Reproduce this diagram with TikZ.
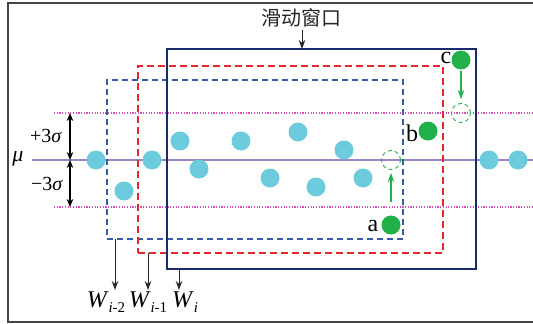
\documentclass[tikz,border=0pt]{standalone}
\usepackage{fontspec}
\setmainfont{Liberation Serif}
\newfontfamily\cjk{Noto Sans CJK SC}
\usetikzlibrary{arrows.meta}
\definecolor{navy}{HTML}{1B2A6B}
\definecolor{wred}{HTML}{E8262E}
\definecolor{wblue}{HTML}{3A5AA8}
\definecolor{dotmag}{HTML}{D050B8}
\definecolor{mupurple}{HTML}{9A86C0}
\definecolor{dotcyan}{HTML}{6CCBDC}
\definecolor{dotgreen}{HTML}{22B04B}
\definecolor{framegray}{HTML}{444444}
\begin{document}
\begin{tikzpicture}[x=1pt,y=-1pt,
  dot/.style={circle,fill=dotcyan,minimum size=19pt,inner sep=0pt},
  gdot/.style={circle,fill=dotgreen,minimum size=19pt,inner sep=0pt},
  gghost/.style={circle,draw=dotgreen,dash pattern=on 4pt off 3pt,line width=0.9pt,minimum size=19pt,inner sep=0pt},
  winbox/.style={inner sep=0pt,outer sep=0pt},
  garrow/.style={draw=dotgreen,line width=1.1pt,-{Stealth[length=9pt,width=6.5pt]}},
  warrow/.style={draw=black!85,line width=1pt,-{Stealth[length=9pt,width=6.5pt]}},
  sarrow/.style={draw=black,line width=1.2pt,{Stealth[length=8pt,width=6.5pt]}-{Stealth[length=8pt,width=6.5pt]}},
  lbl/.style={font=\fontsize{24}{26}\selectfont,inner sep=0pt},
  slbl/.style={font=\fontsize{20}{22}\selectfont,inner sep=0pt}
]
\clip (0,0) rectangle (533,324);
\useasboundingbox (0,0) rectangle (533,324);
% outer frame
\draw[framegray,line width=1.8pt] (8,3) rectangle (560,322);
% reference lines
\draw[dotmag,line width=1.1pt,dash pattern=on 1.2pt off 1.5pt] (54,113) -- (540,113);
\draw[dotmag,line width=1.1pt,dash pattern=on 1.2pt off 1.5pt] (54,207) -- (540,207);
\draw[mupurple,line width=1.6pt] (32,160) -- (540,160);
% windows
\node[winbox,draw=wblue,line width=1.1pt,dash pattern=on 6pt off 4pt,minimum width=296pt,minimum height=159pt] (wi2) at (255,159.5) {};
\node[winbox,draw=wred,line width=1.1pt,dash pattern=on 7pt off 4pt,minimum width=305pt,minimum height=187pt] (wi1) at (290.5,159.5) {};
\node[winbox,draw=navy,line width=1.5pt,minimum width=309pt,minimum height=220pt] (wi) at (321.5,159) {};
% cyan points
\node[dot] (p1) at (96,160) {};
\node[dot] (p2) at (124,191) {};
\node[dot] (p3) at (152,160) {};
\node[dot] (p4) at (180,141) {};
\node[dot] (p5) at (199,169) {};
\node[dot] (p6) at (241,141) {};
\node[dot] (p7) at (298,132) {};
\node[dot] (p8) at (270,178) {};
\node[dot] (p9) at (344,150) {};
\node[dot] (p10) at (316,187) {};
\node[dot] (p11) at (363,178) {};
\node[dot] (p12) at (489,160) {};
\node[dot] (p13) at (518,160) {};
% green points
\node[gdot] (c) at (461,60) {};
\node[gdot] (b) at (428,131) {};
\node[gdot] (a) at (391,225) {};
\node[gghost] (c2) at (461,113) {};
\node[gghost] (a2) at (391,160) {};
\draw[garrow,shorten <=1pt,shorten >=4pt] (c) -- (c2);
\draw[garrow,shorten <=13pt,shorten >=3pt] (a) -- (a2);
\node[lbl] (la) at (373,226) {a};
\node[lbl] (lb) at (412,133) {b};
\node[lbl] (lc) at (446,58) {c};
% sigma
\node[slbl] (mu) at (18,159) {\fontsize{22}{24}\selectfont\textit{μ}};
\coordinate (up) at (70,113);
\coordinate (mid) at (70,160);
\coordinate (dn) at (70,207);
\draw[sarrow] (up) -- (mid);
\draw[sarrow] (mid) -- (dn);
\node[slbl] (ps) at (46,136) {+3\textit{σ}};
\node[slbl] (ms) at (47,184) {−3\textit{σ}};
% title
\node[inner sep=0pt,font=\cjk\fontsize{20}{22}\selectfont,text=black!85] (title) at (301,18) {滑动窗口};
\draw[warrow] (302,30) -- (wi.north -| 302,0);
% W labels
\coordinate (e2) at (115,290);
\coordinate (e1) at (148,290);
\coordinate (e0) at (179,290);
\draw[warrow] (wi2.south -| e2) -- (e2);
\draw[warrow] (wi1.south -| e1) -- (e1);
\draw[warrow] (wi.south -| e0) -- (e0);
\node[lbl,anchor=base] (w2) at (106,307) {\textit{W}\raisebox{-5pt}{\fontsize{15}{15}\selectfont\textit{i}-2}};
\node[lbl,anchor=base] (w1) at (148,307) {\textit{W}\raisebox{-5pt}{\fontsize{15}{15}\selectfont\textit{i}-1}};
\node[lbl,anchor=base] (w0) at (185,307) {\textit{W}\raisebox{-5pt}{\fontsize{15}{15}\selectfont\textit{i}}};
\end{tikzpicture}
\end{document}
